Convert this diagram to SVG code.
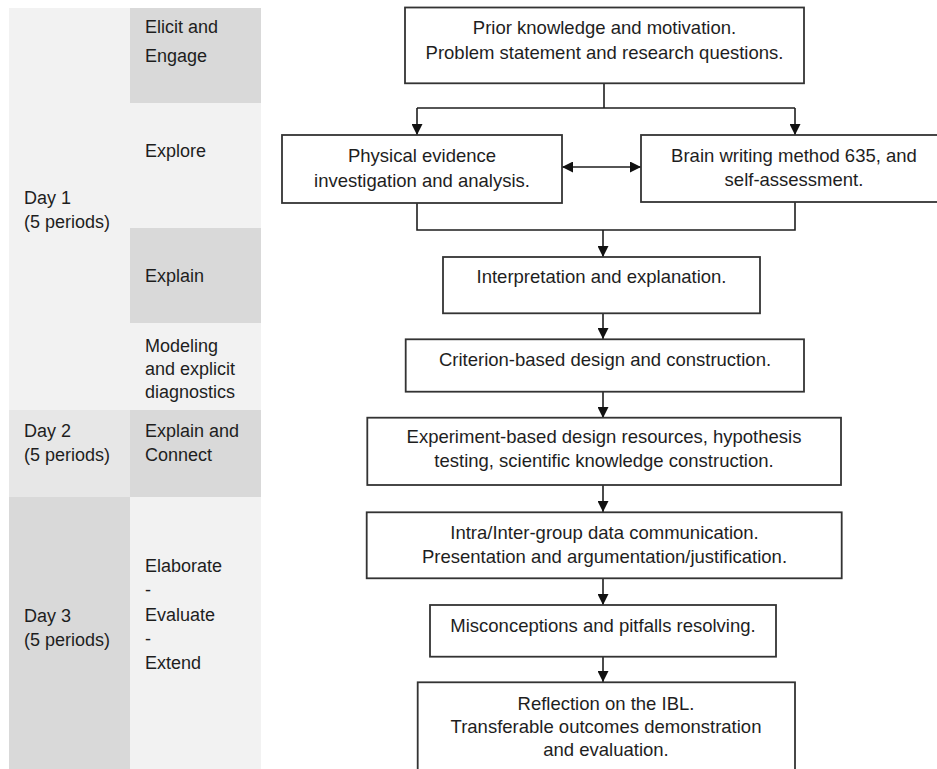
<svg xmlns="http://www.w3.org/2000/svg" width="937" height="769" viewBox="0 0 937 769">
  <style>
    text { font-family: "Liberation Sans", Arial, sans-serif; font-size: 18px; fill: #1e1e1e; }
    .c { text-anchor: middle; font-size: 18.5px; }
    .box { fill: #fff; stroke: #333; stroke-width: 1.8; }
    .light { fill: #f2f2f2; }
    .mid { fill: #e7e7e7; }
    .dark { fill: #d9d9d9; }
    .conn { fill: none; stroke: #1e1e1e; stroke-width: 1.6; }
  </style>
  <defs>
    <marker id="arr" viewBox="0 0 10 10" refX="10" refY="5" markerWidth="11" markerHeight="11" markerUnits="userSpaceOnUse" orient="auto-start-reverse">
      <path d="M0,0 L10,5 L0,10 z" fill="#111"/>
    </marker>
  </defs>

  <rect width="937" height="769" fill="#fff"/>

  <g id="timeline">
    <g id="day1">
      <rect class="light" x="9" y="8" width="121" height="402"/>
      <text x="24" y="204">Day 1</text>
      <text x="24" y="228">(5 periods)</text>
    </g>
    <g id="day2">
      <rect class="mid" x="9" y="410" width="121" height="87"/>
      <text x="24" y="436.7">Day 2</text>
      <text x="24" y="461">(5 periods)</text>
    </g>
    <g id="day3">
      <rect class="dark" x="9" y="497" width="121" height="272"/>
      <text x="24" y="621.7">Day 3</text>
      <text x="24" y="646">(5 periods)</text>
    </g>
    <g id="phase-elicit">
      <rect class="dark" x="130" y="8" width="131" height="95"/>
      <text x="145" y="33.3">Elicit and</text>
      <text x="145" y="61.7">Engage</text>
    </g>
    <g id="phase-explore">
      <rect class="light" x="130" y="103" width="131" height="125"/>
      <text x="145" y="156.7">Explore</text>
    </g>
    <g id="phase-explain">
      <rect class="dark" x="130" y="228" width="131" height="95"/>
      <text x="145" y="281.7">Explain</text>
    </g>
    <g id="phase-modeling">
      <rect class="light" x="130" y="323" width="131" height="87"/>
      <text x="145" y="351.7">Modeling</text>
      <text x="145" y="375">and explicit</text>
      <text x="145" y="398.3">diagnostics</text>
    </g>
    <g id="phase-connect">
      <rect class="dark" x="130" y="410" width="131" height="87"/>
      <text x="145" y="436.7">Explain and</text>
      <text x="145" y="461">Connect</text>
    </g>
    <g id="phase-elaborate">
      <rect class="light" x="130" y="497" width="131" height="272"/>
      <text x="145" y="571.7">Elaborate</text>
      <text x="145" y="595.5">-</text>
      <text x="145" y="620.7">Evaluate</text>
      <text x="145" y="645">-</text>
      <text x="145" y="669.3">Extend</text>
    </g>
  </g>

  <g id="connectors">
    <path class="conn" d="M604,83 V108"/>
    <path class="conn" d="M417,108 H795"/>
    <path class="conn" d="M417,108 V135" marker-end="url(#arr)"/>
    <path class="conn" d="M795,108 V135" marker-end="url(#arr)"/>
    <path class="conn" d="M562,167 H641" marker-start="url(#arr)" marker-end="url(#arr)"/>
    <path class="conn" d="M417,203 V230 H795 V202"/>
    <path class="conn" d="M603,230 V257" marker-end="url(#arr)"/>
    <path class="conn" d="M603,313 V339" marker-end="url(#arr)"/>
    <path class="conn" d="M603,392 V418" marker-end="url(#arr)"/>
    <path class="conn" d="M603,485 V512" marker-end="url(#arr)"/>
    <path class="conn" d="M603,578 V605" marker-end="url(#arr)"/>
    <path class="conn" d="M603,657 V682" marker-end="url(#arr)"/>
  </g>

  <g id="n1">
    <rect class="box" x="405" y="7.5" width="399" height="75.8"/>
    <text class="c" x="604.5" y="34">Prior knowledge and motivation.</text>
    <text class="c" x="604.5" y="59">Problem statement and research questions.</text>
  </g>
  <g id="n2">
    <rect class="box" x="282" y="135" width="280" height="68"/>
    <text class="c" x="422" y="161.7">Physical evidence</text>
    <text class="c" x="422" y="186.7">investigation and analysis.</text>
  </g>
  <g id="n3">
    <rect class="box" x="641" y="135" width="306" height="67"/>
    <text class="c" x="794" y="162">Brain writing method 635, and</text>
    <text class="c" x="794" y="186">self-assessment.</text>
  </g>
  <g id="n4">
    <rect class="box" x="443" y="257" width="317" height="56.3"/>
    <text class="c" x="601.5" y="283.3">Interpretation and explanation.</text>
  </g>
  <g id="n5">
    <rect class="box" x="405.7" y="339.3" width="398.3" height="52.4"/>
    <text class="c" x="605" y="366">Criterion-based design and construction.</text>
  </g>
  <g id="n6">
    <rect class="box" x="367.3" y="417.7" width="473.7" height="67.3"/>
    <text class="c" x="604" y="443.3">Experiment-based design resources, hypothesis</text>
    <text class="c" x="604" y="466.7">testing, scientific knowledge construction.</text>
  </g>
  <g id="n7">
    <rect class="box" x="366.7" y="512.3" width="475" height="66"/>
    <text class="c" x="604.5" y="539.3">Intra/Inter-group data communication.</text>
    <text class="c" x="604.5" y="563.3">Presentation and argumentation/justification.</text>
  </g>
  <g id="n8">
    <rect class="box" x="430" y="605" width="346" height="51.7"/>
    <text class="c" x="603" y="631.7">Misconceptions and pitfalls resolving.</text>
  </g>
  <g id="n9">
    <rect class="box" x="417.7" y="682.3" width="377.3" height="100"/>
    <text class="c" x="606" y="710">Reflection on the IBL.</text>
    <text class="c" x="606" y="733.3">Transferable outcomes demonstration</text>
    <text class="c" x="606" y="756">and evaluation.</text>
  </g>
</svg>
